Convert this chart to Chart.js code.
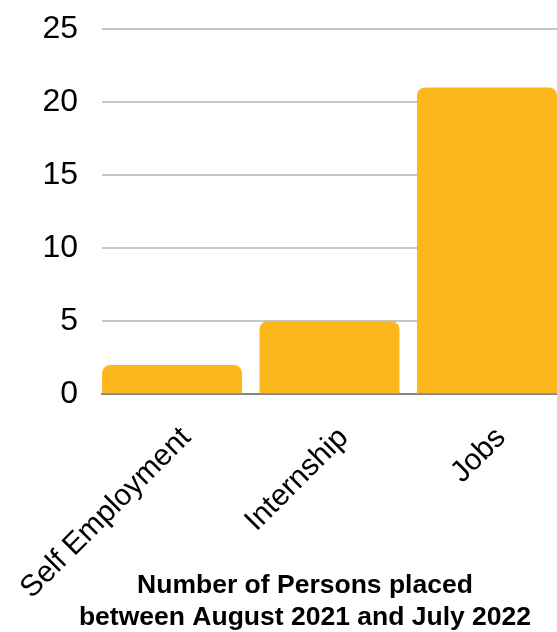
<!DOCTYPE html>
<html>
<head>
<meta charset="utf-8">
<script src="https://cdn.jsdelivr.net/npm/chart.js@4/dist/chart.umd.min.js"></script>
<style>
  html, body { margin: 0; padding: 0; background: #ffffff; }
  #wrap { width: 557px; height: 632px; position: relative; }
</style>
</head>
<body>
<div id="wrap"><canvas id="placements"></canvas></div>
<script>
// Placement categories and how many persons were placed in each
const categories = ['Self Employment', 'Internship', 'Jobs'];
const personsPlaced = [2, 5, 21];

// Value axis ticks
const yTicks = [0, 5, 10, 15, 20, 25];

// Caption shown under the chart
const titleLines = ['Number of Persons placed', 'between August 2021 and July 2022'];

const FONT = '"Liberation Sans", Arial, Helvetica, sans-serif';
const BAR_COLOR = '#fcb71d';

// Slanted labels are anchored a little to the right of each bar's centre
const LABEL_NUDGE = 0.09;

// Let the slanted category labels run down beside the caption, and the
// value labels run past the narrow left axis box, instead of being clipped.
const labelOverflow = {
  id: 'labelOverflow',
  afterLayout(chart) {
    chart.scales.x.bottom = chart.height;
    chart.scales.y.left = 0;
  }
};

new Chart(document.getElementById('placements'), {
  type: 'bar',
  plugins: [labelOverflow],
  data: {
    datasets: [{
      data: personsPlaced.map((v, i) => ({ x: i, y: v })),
      backgroundColor: BAR_COLOR,
      borderWidth: 0,
      borderRadius: 8,
      borderSkipped: 'start',
      categoryPercentage: 1,
      barPercentage: 0.889
    }]
  },
  options: {
    responsive: true,
    maintainAspectRatio: false,
    animation: false,
    devicePixelRatio: 1,
    layout: { padding: { top: 29, left: 53, right: 0, bottom: 0 } },
    plugins: {
      legend: { display: false },
      tooltip: { enabled: false },
      title: {
        display: true,
        position: 'bottom',
        text: titleLines,
        color: '#000000',
        font: { family: FONT, size: 26.5, weight: 'bold', lineHeight: 1.22 },
        padding: { top: 2, bottom: -2 }
      }
    },
    scales: {
      x: {
        type: 'linear',
        offset: false,
        min: -0.445,
        max: categories.length - 1 + 0.445,
        z: 1,
        grid: { display: false, drawTicks: false },
        border: { display: true, color: '#858585', width: 2 },
        afterBuildTicks: (scale) => {
          scale.ticks = categories.map((_, i) => ({ value: i + LABEL_NUDGE }));
        },
        afterFit: (scale) => {
          scale.paddingLeft = 0;
          scale.paddingRight = 0;
          scale.height = 173;
        },
        ticks: {
          autoSkip: false,
          minRotation: 45,
          maxRotation: 45,
          padding: 26,
          color: '#000000',
          font: { family: FONT, size: 30 },
          callback: (value) => categories[Math.round(value)]
        }
      },
      y: {
        min: yTicks[0],
        max: yTicks[yTicks.length - 1],
        afterBuildTicks: (scale) => {
          scale.ticks = yTicks.map(v => ({ value: v }));
        },
        afterFit: (scale) => {
          scale.width = 49;
          scale.paddingTop = 0;
          scale.paddingBottom = 0;
        },
        grid: {
          drawTicks: false,
          lineWidth: 2,
          color: (ctx) => (ctx.tick && ctx.tick.value === 0) ? '#858585' : '#c6c6c6'
        },
        border: { display: false },
        ticks: {
          padding: 24,
          color: '#000000',
          font: { family: FONT, size: 32 }
        }
      }
    }
  }
});
</script>
</body>
</html>
